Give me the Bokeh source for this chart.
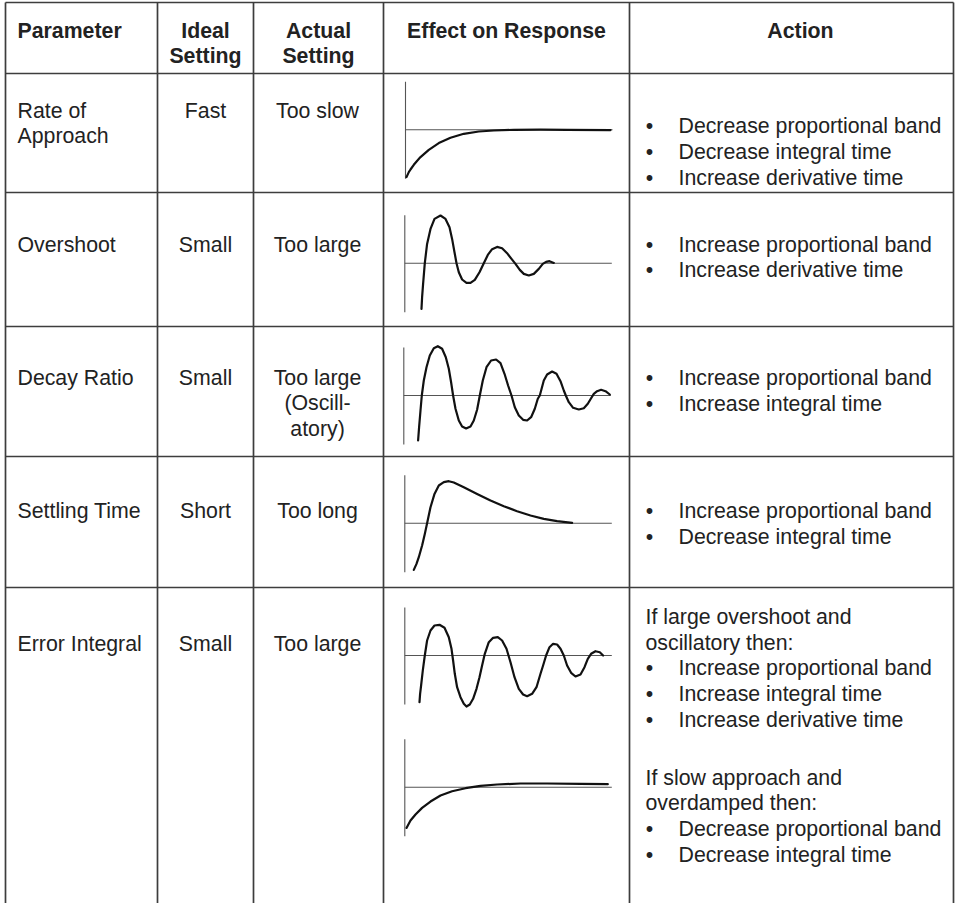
from bokeh.plotting import figure
from bokeh.models import Range1d, ColumnDataSource
from bokeh.core.properties import value
from bokeh.embed import file_html
from bokeh.resources import INLINE

# ---------------- data ----------------
HEADERS = [["Parameter"], ["Ideal", "Setting"], ["Actual", "Setting"],
           ["Effect on Response"], ["Action"]]
PARAMETERS = [["Rate of", "Approach"], ["Overshoot"], ["Decay Ratio"],
              ["Settling Time"], ["Error Integral"]]
IDEAL = [["Fast"], ["Small"], ["Small"], ["Short"], ["Small"]]
ACTUAL = [["Too slow"], ["Too large"], ["Too large", "(Oscill-", "atory)"],
          ["Too long"], ["Too large"]]
ACTIONS = [
    [("b", "Decrease proportional band"), ("b", "Decrease integral time"),
     ("b", "Increase derivative time")],
    [("b", "Increase proportional band"), ("b", "Increase derivative time")],
    [("b", "Increase proportional band"), ("b", "Increase integral time")],
    [("b", "Increase proportional band"), ("b", "Decrease integral time")],
    [("p", "If large overshoot and"), ("p", "oscillatory then:"),
     ("b", "Increase proportional band"), ("b", "Increase integral time"),
     ("b", "Increase derivative time"), ("gap", ""),
     ("p", "If slow approach and"), ("p", "overdamped then:"),
     ("b", "Decrease proportional band"), ("b", "Decrease integral time")],
]

# response sketches: time (px from axis) and deviation from set point (px, up +)
APPROACH_T = [1.0, 3.3, 5.0, 8.3, 11.7, 15.0, 23.3, 33.3, 45.0, 58.3, 73.3, 88.3,
              108.3, 135.0, 161.7, 205.0]
APPROACH_Y = [-47.3, -42.3, -39.7, -35.0, -31.0, -27.3, -20.0, -13.3, -8.0, -4.0,
              -1.7, -0.7, 0.0, 0.2, 0.0, -0.3]

OVERSHOOT_T = [16.7, 17.3, 18.3, 20.0, 22.3, 25.7, 29.7, 35.7, 40.7, 44.7, 47.3,
               49.7, 51.7, 54.0, 57.3, 61.7, 65.7, 70.0, 74.7, 79.0, 83.0, 87.3,
               92.3, 97.3, 102.3, 106.7, 110.7, 115.0, 119.0, 124.0, 129.0, 134.0,
               138.0, 141.3, 144.7, 149.0]
OVERSHOOT_Y = [-45.7, -34.0, -20.7, 0.0, 19.3, 34.3, 44.3, 47.7, 44.3, 36.0, 24.3,
               11.0, 0.0, -9.0, -16.3, -19.7, -19.7, -16.7, -9.0, 0.0, 8.3, 14.0,
               16.3, 15.0, 10.0, 4.3, -0.7, -6.7, -10.7, -12.3, -10.7, -5.7,
               -0.7, 1.3, 2.0, 0.3]

DECAY_T = [14.3, 15.3, 16.7, 18.0, 20.0, 22.7, 26.0, 30.0, 34.0, 38.3, 42.0, 45.0,
           47.3, 49.3, 51.7, 55.0, 58.3, 62.3, 66.7, 70.0, 73.3, 76.0, 79.0, 82.7,
           87.3, 92.3, 96.7, 100.7, 104.3, 107.7, 111.0, 115.0, 119.3, 123.3,
           127.3, 131.0, 134.0, 136.0, 140.0, 143.3, 148.3, 152.7, 156.7, 160.0,
           162.0, 165.0, 169.3, 175.0, 180.0, 184.0, 187.3, 190.0, 193.3, 197.3,
           201.7, 206.0]
DECAY_Y = [-45.0, -31.7, -15.0, 0.0, 15.0, 28.3, 40.0, 47.3, 49.3, 46.7, 38.3, 26.7,
           13.3, 0.0, -13.3, -25.0, -31.0, -33.0, -31.0, -25.0, -14.3, 0.0, 15.0,
           28.3, 35.0, 36.0, 32.3, 21.7, 10.0, 0.0, -11.7, -20.0, -24.3, -25.0,
           -21.7, -13.3, -3.3, 0.0, 15.0, 21.0, 24.0, 21.7, 14.3, 5.0,
           0.0, -6.7, -12.3, -14.0, -12.7, -8.3, -2.7, 1.7, 4.3, 5.7,
           4.3, 1.0]

SETTLING_T = [9.0, 11.7, 14.0, 17.3, 20.0, 22.3, 25.7, 29.7, 34.0, 39.0, 44.0, 49.0,
              59.0, 72.3, 85.7, 99.0, 112.3, 125.7, 139.0, 152.3, 167.3]
SETTLING_Y = [-46.7, -40.7, -34.0, -22.3, -10.7, 0.0, 16.0, 29.3, 37.7, 41.0, 42.0,
              40.7, 36.0, 29.3, 22.7, 17.0, 12.0, 7.7, 4.3, 2.0, 0.3]

OSCILL_T = [14.7, 15.3, 16.3, 18.0, 20.0, 22.3, 25.7, 29.7, 34.7, 39.7, 44.0, 46.7,
            48.3, 50.0, 52.3, 55.7, 59.0, 61.7, 65.0, 68.3, 71.7, 74.7, 77.3, 80.0,
            84.0, 88.3, 93.0, 97.3, 101.7, 105.7, 109.7, 114.0, 118.3, 122.3,
            127.3, 131.7, 135.7, 138.3, 141.3, 144.7, 148.3, 152.3, 155.7, 159.0,
            162.3, 166.3, 170.7, 175.7, 179.7, 183.0, 186.3, 190.7, 195.0, 198.3]
OSCILL_Y = [-46.7, -38.3, -30.0, -15.0, 0.0, 15.0, 25.0, 30.0, 30.7, 27.7, 18.3, 6.7,
            -5.0, -18.3, -31.7, -41.7, -48.3, -51.0, -49.0, -43.3, -33.3, -21.7,
            -10.0, 1.7, 13.3, 17.7, 18.3, 15.0, 6.7, -6.7, -21.7, -33.3, -39.0,
            -40.7, -38.3, -31.7, -18.3, -10.0, 0.0, 8.3, 11.7, 11.0, 6.7, 0.0,
            -10.0, -17.3, -21.0, -19.0, -11.7, -3.3, 1.7, 4.3, 3.3, 0.0]

OVERDAMPED_T = [1.7, 5.7, 10.7, 17.3, 25.7, 35.7, 47.3, 60.7, 75.7, 92.3, 115.7,
                142.3, 175.7, 203.0]
OVERDAMPED_Y = [-40.7, -33.3, -27.3, -20.7, -14.3, -8.3, -4.0, -1.0, 1.3, 2.7, 3.7,
                3.7, 3.3, 3.0]

RESPONSES = [(APPROACH_T, APPROACH_Y), (OVERSHOOT_T, OVERSHOOT_Y),
             (DECAY_T, DECAY_Y), (SETTLING_T, SETTLING_Y),
             (OSCILL_T, OSCILL_Y), (OVERDAMPED_T, OVERDAMPED_Y)]

# ---------------- layout (pixel positions of the reference) ----------------
W, H = 956, 903
COL_EDGES = [5, 157, 253, 383, 629, 953]
ROW_EDGES = [2, 73, 192, 326, 456, 587]
TABLE_BOTTOM = 910
TEXT_DY = -7
HEADER_X = [17, 205, 318, 506, 800]
HEADER_BASE = 37
ROW_BASE = [117, 251, 384, 517.5, 650.7]
ACTION_BASE = [132.5, 251, 384.3, 517.5, 623.3]
LS = 25.8
GAP_STEP = 1.23
PARAM_X = 17
IDEAL_X = 205
ACTUAL_X = 317
BULLET_X = 649
ACTION_TEXT_X = 678
ACTION_PLAIN_X = 645
MINI_ORIGINS = [(405, 129.3), (404.3, 262.7), (403.3, 395), (404.3, 522.7),
                (404.3, 655), (404.3, 786.7)]
AXIS_UP, AXIS_DOWN, BASE_LEN = 48, 49, 207

FONT = value("Liberation Sans")
FS = "21.3px"
TXT = "#222222"

p = figure(width=W, height=H, output_backend="svg", toolbar_location=None,
           x_range=Range1d(0, W), y_range=Range1d(H, 0),
           x_axis_type=None, y_axis_type=None, min_border=0,
           background_fill_color="white", border_fill_color="white")
p.outline_line_color = None
p.grid.visible = False

# table grid
hx0, hx1, hy0, hy1 = [], [], [], []
for y in ROW_EDGES:
    hx0.append(COL_EDGES[0]); hx1.append(COL_EDGES[-1]); hy0.append(y); hy1.append(y)
for x in COL_EDGES:
    hx0.append(x); hx1.append(x); hy0.append(ROW_EDGES[0]); hy1.append(TABLE_BOTTOM)
p.segment(hx0, hy0, hx1, hy1, line_color="#3d3d3d", line_width=1.7)

# mini axes and set-point lines
ax0, ax1, ay0, ay1 = [], [], [], []
for ox, oy in MINI_ORIGINS:
    ax0 += [ox, ox]; ax1 += [ox, ox + BASE_LEN]
    ay0 += [oy - AXIS_UP, oy]; ay1 += [oy + AXIS_DOWN, oy]
p.segment(ax0, ay0, ax1, ay1, line_color="#555555", line_width=1.1)

# response curves
for (ox, oy), (ts, ys) in zip(MINI_ORIGINS, RESPONSES):
    p.line([ox + t for t in ts], [oy - v for v in ys], line_color="#111111",
           line_width=2.2, line_join="round", line_cap="round")


def add_text(xs, ys, texts, align, bold=False):
    src = ColumnDataSource(dict(x=xs, y=[v + TEXT_DY for v in ys], t=texts))
    p.text(x="x", y="y", text="t", source=src, text_font=FONT,
           text_font_size=FS, text_color=TXT, text_align=align,
           text_baseline="alphabetic",
           text_font_style="bold" if bold else "normal")


# header
hx, hy, ht, cx, cy, ct = [], [], [], [], [], []
for i, lines in enumerate(HEADERS):
    for k, s in enumerate(lines):
        if i == 0:
            hx.append(HEADER_X[i]); hy.append(HEADER_BASE + k * LS); ht.append(s)
        else:
            cx.append(HEADER_X[i]); cy.append(HEADER_BASE + k * LS); ct.append(s)
add_text(hx, hy, ht, "left", bold=True)
add_text(cx, cy, ct, "center", bold=True)

# body columns
lx, ly, lt, mx, my, mt = [], [], [], [], [], []
for r in range(5):
    for k, s in enumerate(PARAMETERS[r]):
        lx.append(PARAM_X); ly.append(ROW_BASE[r] + k * LS); lt.append(s)
    for k, s in enumerate(IDEAL[r]):
        mx.append(IDEAL_X); my.append(ROW_BASE[r] + k * LS); mt.append(s)
    for k, s in enumerate(ACTUAL[r]):
        mx.append(ACTUAL_X); my.append(ROW_BASE[r] + k * LS); mt.append(s)

bx, by, bt = [], [], []
for r, items in enumerate(ACTIONS):
    off = 0.0
    for kind, s in items:
        if kind == "gap":
            off += GAP_STEP
            continue
        yb = ACTION_BASE[r] + off * LS
        if kind == "b":
            bx.append(BULLET_X); by.append(yb); bt.append("\u2022")
            lx.append(ACTION_TEXT_X); ly.append(yb); lt.append(s)
        else:
            lx.append(ACTION_PLAIN_X); ly.append(yb); lt.append(s)
        off += 1
add_text(lx, ly, lt, "left")
add_text(mx, my, mt, "center")
add_text(bx, by, bt, "center")

open("out.html", "w").write(file_html(p, INLINE))
